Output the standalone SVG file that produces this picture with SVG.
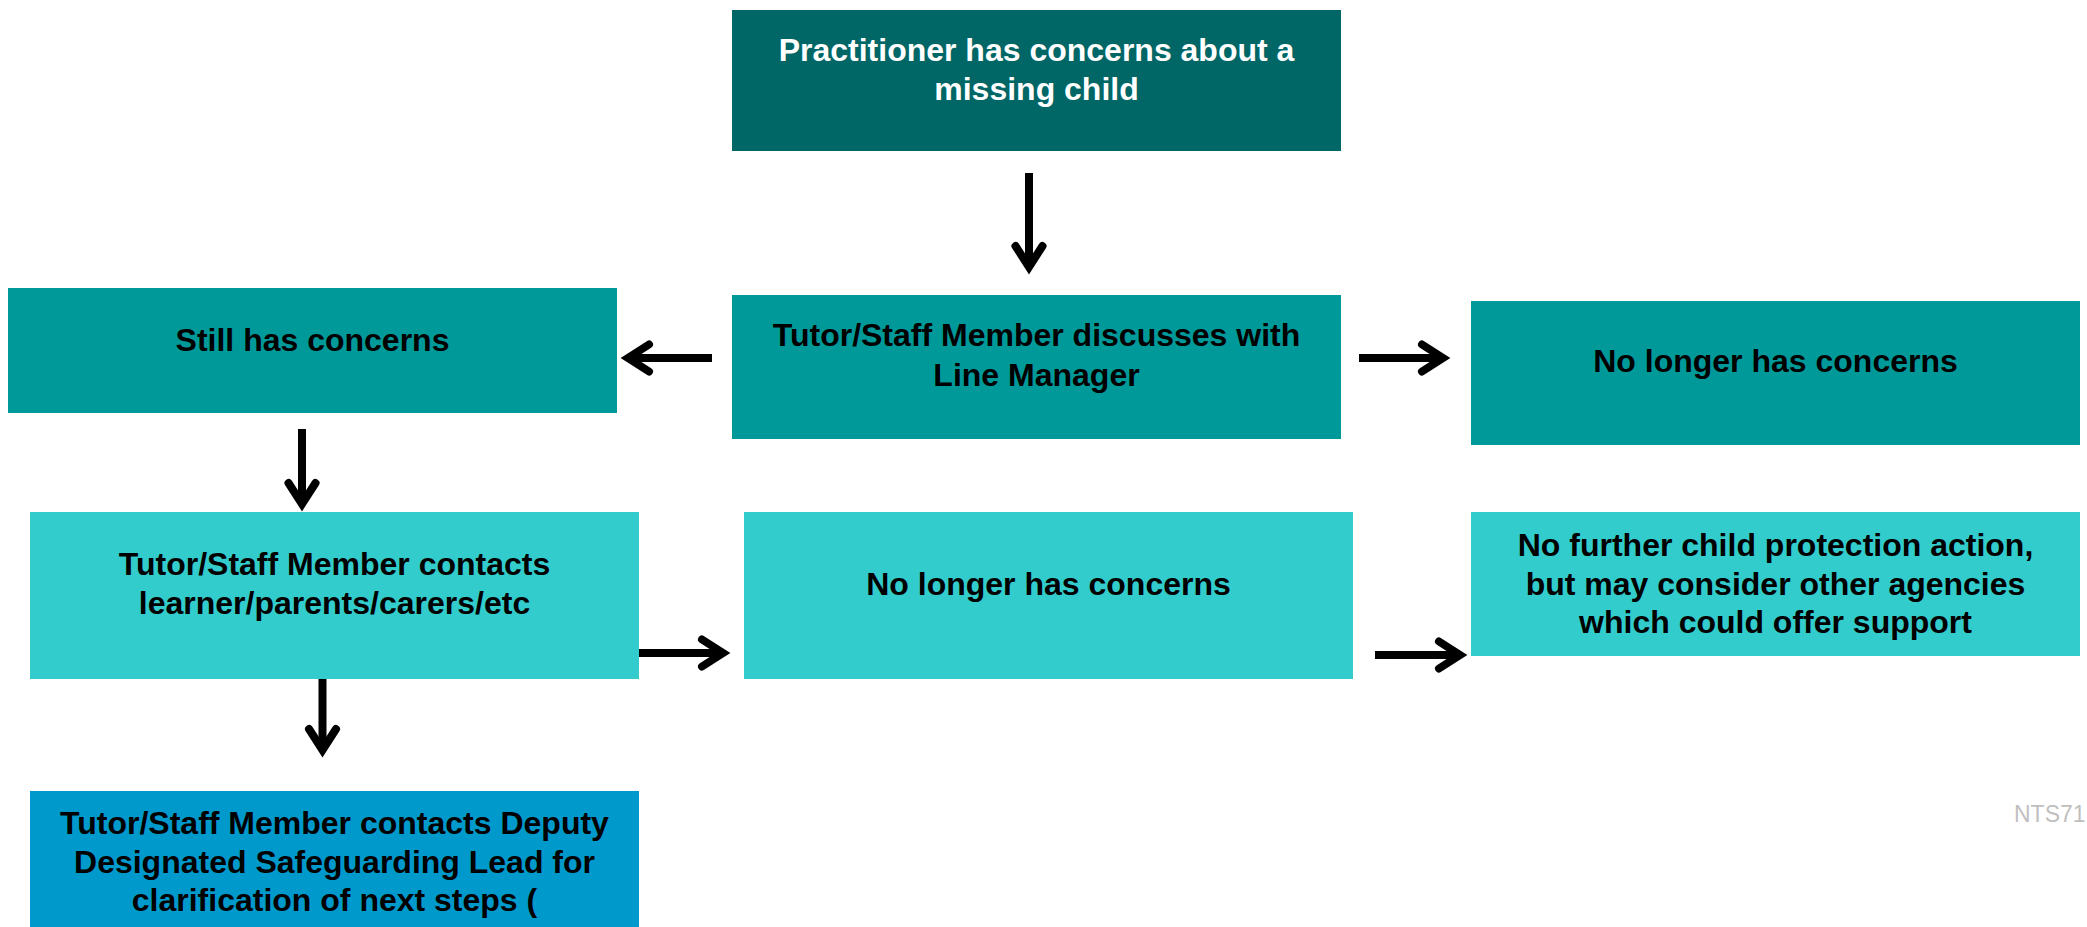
<svg xmlns="http://www.w3.org/2000/svg" width="2087" height="927" viewBox="0 0 2087 927">
  <style>
    .t { font-family: "Liberation Sans", Arial, sans-serif; font-weight: bold; font-size: 32px; text-anchor: middle; fill: #000000; }
    .tw { fill: #FFFFFF; }
    .dark { fill: #006666; }
    .mid { fill: #009999; }
    .light { fill: #33CCCC; }
    .blue { fill: #0099CC; }
    .conn { stroke: #000000; stroke-width: 8; fill: none; marker-end: url(#chev); }
    .note { font-family: "Liberation Sans", Arial, sans-serif; font-size: 23px; fill: #BFBFBF; }
  </style>
  <defs>
    <marker id="chev" markerUnits="userSpaceOnUse" viewBox="-30 -22 40 44" refX="0" refY="0" markerWidth="40" markerHeight="44" orient="auto" overflow="visible">
      <path d="M -21 -13.5 L 0 0 L -21 13.5" fill="none" stroke="#000000" stroke-width="8" stroke-linecap="round" stroke-linejoin="miter"/>
    </marker>
  </defs>
  <rect width="2087" height="927" fill="#FFFFFF"/>

  <g id="n1">
    <rect class="dark" x="732" y="10" width="609" height="141"/>
    <text class="t tw" x="1036.5" y="60.5">Practitioner has concerns about a</text>
    <text class="t tw" x="1036.5" y="99.5">missing child</text>
  </g>
  <g id="n2">
    <rect class="mid" x="732" y="295" width="609" height="144"/>
    <text class="t" x="1036.5" y="346">Tutor/Staff Member discusses with</text>
    <text class="t" x="1036.5" y="385.5">Line Manager</text>
  </g>
  <g id="n3">
    <rect class="mid" x="8" y="288" width="609" height="125"/>
    <text class="t" x="312.5" y="350.5">Still has concerns</text>
  </g>
  <g id="n4">
    <rect class="mid" x="1471" y="301" width="609" height="144"/>
    <text class="t" x="1775.5" y="372">No longer has concerns</text>
  </g>
  <g id="n5">
    <rect class="light" x="30" y="512" width="609" height="167"/>
    <text class="t" x="334.5" y="575">Tutor/Staff Member contacts</text>
    <text class="t" x="334.5" y="614">learner/parents/carers/etc</text>
  </g>
  <g id="n6">
    <rect class="light" x="744" y="512" width="609" height="167"/>
    <text class="t" x="1048.5" y="594.5">No longer has concerns</text>
  </g>
  <g id="n7">
    <rect class="light" x="1471" y="512" width="609" height="144"/>
    <text class="t" x="1775.5" y="556">No further child protection action,</text>
    <text class="t" x="1775.5" y="594.5">but may consider other agencies</text>
    <text class="t" x="1775.5" y="633">which could offer support</text>
  </g>
  <g id="n8">
    <rect class="blue" x="30" y="791" width="609" height="136"/>
    <text class="t" x="334.5" y="834">Tutor/Staff Member contacts Deputy</text>
    <text class="t" x="334.5" y="873">Designated Safeguarding Lead for</text>
    <text class="t" x="334.5" y="911">clarification of next steps (</text>
  </g>

  <g id="connectors">
    <path class="conn" d="M 1029 173 L 1029 267"/>
    <path class="conn" d="M 712 358 L 628 358"/>
    <path class="conn" d="M 1359 358 L 1443 358"/>
    <path class="conn" d="M 302 429 L 302 504"/>
    <path class="conn" d="M 639 653 L 723 653"/>
    <path class="conn" d="M 1375 655 L 1460 655"/>
    <path class="conn" d="M 322.5 679 L 322.5 750"/>
  </g>

  <text class="note" x="2014" y="822">NTS71</text>
</svg>
